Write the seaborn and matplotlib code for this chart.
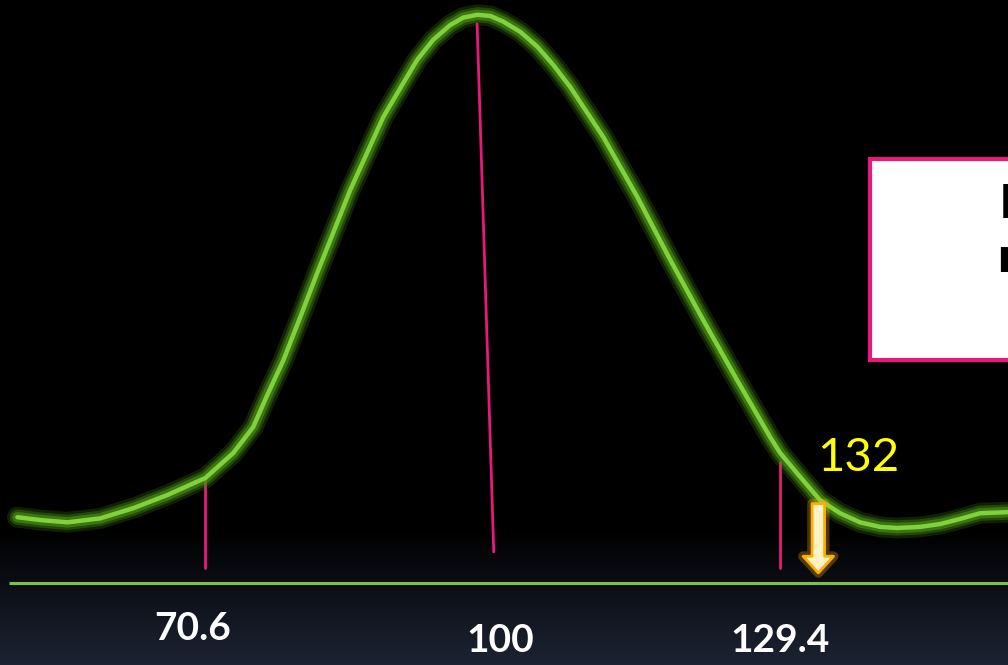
import numpy as np
import pandas as pd
import seaborn as sns
import matplotlib.pyplot as plt
from matplotlib.patches import Rectangle
from matplotlib.colors import LinearSegmentedColormap

sns.set_theme(style="white")
plt.rcParams["font.family"] = ["Lato", "DejaVu Sans"]

DPI = 100

# bell curve (score, relative height, peak = 1)
curve_x = [51.38, 53.73, 56.49, 59.86, 63.24, 66.71, 70.60, 73.46, 75.51,
           76.94, 78.58, 80.31, 82.05, 85.43, 88.80, 90.54, 92.28, 93.91,
           95.65, 96.98, 98.41, 99.74, 101.07, 102.81, 104.55, 106.18,
           107.92, 111.30, 114.77, 118.15, 121.52, 125.00, 128.37, 129.40,
           131.44, 133.48, 135.53, 137.57, 139.62, 141.36, 143.71, 145.75,
           147.80, 149.84, 152.71]
curve_h = [0.116, 0.111, 0.107, 0.114, 0.132, 0.155, 0.185, 0.229, 0.275,
           0.331, 0.392, 0.468, 0.546, 0.692, 0.820, 0.871, 0.921, 0.956,
           0.982, 0.995, 1.000, 0.998, 0.988, 0.970, 0.944, 0.912, 0.873,
           0.785, 0.680, 0.569, 0.463, 0.357, 0.257, 0.229, 0.187, 0.146,
           0.123, 0.107, 0.099, 0.097, 0.099, 0.104, 0.113, 0.123, 0.125]

tick_values = [70.6, 100, 129.4]
tick_labels = ["70.6", "100", "129.4"]
marker_tops = [0.185, 0.984, 0.213]
score = 132
score_label = "132"

curve = pd.DataFrame({"score": curve_x, "height": curve_h})

fig = plt.figure(figsize=(10.08, 6.65), dpi=DPI)
fig.patch.set_facecolor("black")
ax = fig.add_axes([0, 0, 1, 1])
ax.set_facecolor("black")
ax.set_xlim(49.6, 152.7)
ax.set_ylim(-0.144, 1.026)
ax.axis("off")

# dark navy gradient at the bottom
grad = np.linspace(0, 1, 100).reshape(-1, 1)
cmap = LinearSegmentedColormap.from_list("bg", ["#1d2333", "#000000"])
ax.imshow(grad, extent=(49.6, 152.7, -0.144, 0.095), origin="lower",
          aspect="auto", cmap=cmap, zorder=0)

# baseline
ax.plot([50.55, 152.7], [0, 0], color="#7dc242", lw=2.2, zorder=2,
        solid_capstyle="butt")

# pink marker lines
ax.plot([70.6, 70.6], [0.026, marker_tops[0]], color="#e8197a", lw=2, zorder=2)
ax.plot([98.4, 100.1], [marker_tops[1], 0.055], color="#e8197a", lw=2, zorder=4)
ax.plot([129.4, 129.4], [0.026, marker_tops[2]], color="#e8197a", lw=2, zorder=2)

# glowing curve
for lw, a in [(15, 0.22), (11, 0.35), (7.5, 0.6)]:
    sns.lineplot(data=curve, x="score", y="height", ax=ax, color="#4c9416",
                 lw=lw, alpha=a, zorder=3, solid_capstyle="round",
                 solid_joinstyle="round")
sns.lineplot(data=curve, x="score", y="height", ax=ax, color="#80d23c",
             lw=3.2, zorder=3, solid_joinstyle="round")

# arrow pointing at the score
for lw, a in [(7, 0.3), (2, 1.0)]:
    ax.annotate("", xy=(133.3, 0.018), xytext=(133.3, 0.14),
                arrowprops=dict(arrowstyle="simple,head_length=0.6,head_width=1.1,tail_width=0.45",
                                fc="#fff2c4", ec="#ffae00", lw=lw, alpha=a,
                                mutation_scale=20, shrinkA=0, shrinkB=0),
                zorder=5)

ax.text(137.4, 0.22, score_label, color="#ffff00", fontsize=34,
        ha="center", va="center", zorder=6)

# tick labels under the baseline
label_x = [69.3, 100.8, 129.4]
label_y = [-0.100, -0.121, -0.121]
for lx, ly, lab in zip(label_x, label_y, tick_labels):
    ax.text(lx, ly, lab, color="white", fontsize=28, fontweight="bold",
            ha="center", va="baseline", zorder=6)

# call-out box (runs off the right edge)
ax.add_patch(Rectangle((138.6, 0.393), 16, 0.353, fc="white", ec="#e8197a",
                       lw=3, zorder=7))
ax.text(151.75, 0.643, "I", color="black", fontsize=33, fontweight="bold",
        ha="left", va="baseline", zorder=8, family="DejaVu Sans")
ax.text(151.45, 0.548, "n", color="black", fontsize=33, fontweight="bold",
        ha="left", va="baseline", zorder=8, family="DejaVu Sans")

plt.savefig("out.png", dpi=DPI, facecolor="black")
